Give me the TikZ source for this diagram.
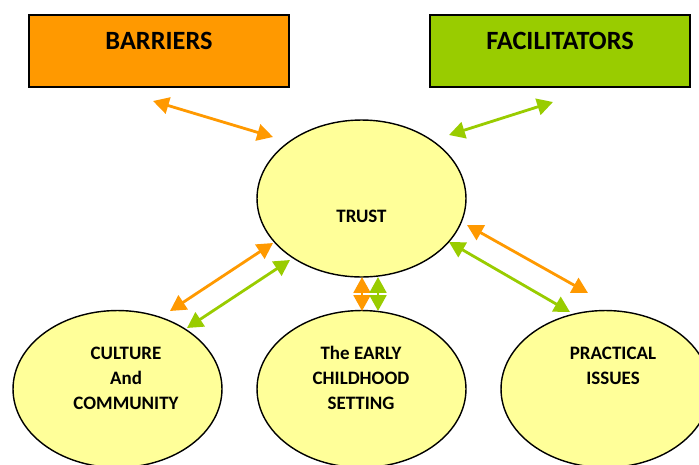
\documentclass[tikz,border=0pt]{standalone}
\usepackage{fontspec}
\setmainfont{Carlito}
\usetikzlibrary{shapes.geometric,arrows.meta}

\definecolor{barrierorange}{RGB}{255,153,0}
\definecolor{facilgreen}{RGB}{153,204,0}
\definecolor{paleyellow}{RGB}{255,255,153}

\tikzset{
  headbox/.style={draw, line width=0.9pt, minimum width=5.2cm, minimum height=1.44cm, inner sep=0pt},
  blob/.style={ellipse, draw, line width=0.8pt, fill=paleyellow, minimum width=4.18cm, minimum height=3.14cm},
  bigtext/.style={font=\fontsize{15}{18}\selectfont\bfseries},
  smalltext/.style={font=\fontsize{10.8}{14.2}\selectfont\bfseries, align=center},
  twoway/.style={line width=1.6pt, {Triangle[length=9pt,width=9.5pt]}-{Triangle[length=9pt,width=9.5pt]}}
}

\begin{document}
\begin{tikzpicture}[x=0.02cm, y=-0.02cm]
\useasboundingbox (0,0) rectangle (699,464);

% Boxes
\node[headbox, fill=barrierorange] (barriers) at (159,51) {};
\node[bigtext] (barrierstext) at (159,41) {BARRIERS};
\node[headbox, fill=facilgreen] (facilitators) at (560,51) {};
\node[bigtext] (facilitatorstext) at (560,41) {FACILITATORS};

% Ellipses
\node[blob] (trust) at (361.5,198.5) {};
\node[smalltext] (trusttext) at (361.5,216) {TRUST};
\node[blob] (culture) at (117.5,389) {};
\node[smalltext] (culturetext) at (126,378) {CULTURE\\And\\COMMUNITY};
\node[blob] (setting) at (361.5,389) {};
\node[smalltext] (settingtext) at (361,378) {The EARLY\\CHILDHOOD\\SETTING};
\node[blob] (practical) at (605.5,389) {};
\node[smalltext] (practicaltext) at (613,365.5) {PRACTICAL\\ISSUES};

% Arrow ends
\coordinate (b1) at (153,101);
\coordinate (b2) at (273,137);
\coordinate (f1) at (449,135);
\coordinate (f2) at (553,102);
\coordinate (co1) at (170,311);
\coordinate (co2) at (273,243);
\coordinate (cg1) at (187,328);
\coordinate (cg2) at (290,260);
\coordinate (so1) at (362,277);
\coordinate (so2) at (362,311);
\coordinate (sg1) at (378,277);
\coordinate (sg2) at (378,311);
\coordinate (po1) at (467,225);
\coordinate (po2) at (588,293);
\coordinate (pg1) at (449,242);
\coordinate (pg2) at (570,312);

% Arrows
\draw[twoway, barrierorange] (b1) -- (b2);
\draw[twoway, facilgreen] (f1) -- (f2);
\draw[twoway, barrierorange] (co1) -- (co2);
\draw[twoway, facilgreen] (cg1) -- (cg2);
\draw[twoway, barrierorange] (so1) -- (so2);
\draw[twoway, facilgreen] (sg1) -- (sg2);
\draw[twoway, barrierorange] (po1) -- (po2);
\draw[twoway, facilgreen] (pg1) -- (pg2);
\end{tikzpicture}
\end{document}
